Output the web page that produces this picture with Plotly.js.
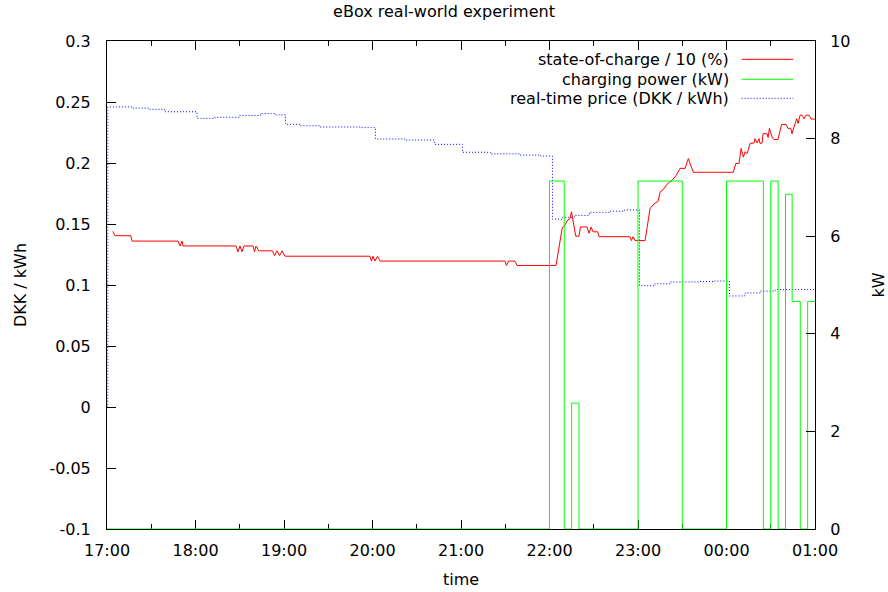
<!DOCTYPE html>
<html>
<head>
<meta charset="utf-8">
<script src="https://cdn.plot.ly/plotly-3.0.1.min.js"></script>
<style>html,body{margin:0;padding:0;background:#fff;}#chart{width:888px;height:592px;}</style>
</head>
<body>
<div id="chart"></div>
<script>
// times are minutes after 17:00
var priceMin = [0, 0.5, 17, 29, 39, 61, 73, 90, 104, 114, 121, 131, 144, 161, 172, 182, 202, 222, 241, 260, 280, 294, 302, 309, 317, 327, 341, 351, 361, 371.5, 382, 402, 412, 422, 432.5, 443, 453, 480];
var priceVal = [0, 0.246, 0.245, 0.244, 0.242, 0.2366, 0.2375, 0.239, 0.2405, 0.2395, 0.2317, 0.2305, 0.2295, 0.2295, 0.229, 0.2197, 0.2188, 0.2153, 0.2088, 0.2075, 0.2065, 0.2057, 0.154, 0.1555, 0.157, 0.1595, 0.1605, 0.1615, 0.0994, 0.101, 0.1025, 0.1028, 0.1033, 0.091, 0.0935, 0.095, 0.0962, 0.0965];

var socMin = [3.9, 5.4, 16.1, 17.0, 48.1, 49.5, 50.9, 51.5, 87.5, 88.8, 90.2, 91.5, 92.9, 99.0, 100, 101, 103, 112.3, 113.6, 115.3, 117, 118.7, 120.7, 178.3, 179.3, 180.3, 181.7, 183.4, 185.1, 269.8, 270.9, 272.2, 276.6, 278, 304.4, 308.7, 310.5, 312.3, 313.9, 314.9, 317.8, 320, 321, 325.4, 326.8, 328.2, 329.5, 332.7, 333.6, 354.6, 355.6, 356.6, 358, 364.8, 368.2, 371.5, 373.6, 374.9, 377, 379.5, 383.1, 385.8, 388.5, 391.9, 394.1, 397.5, 424.6, 426.3, 428.5, 429.9, 431.4, 432.6, 433.9, 436, 438.7, 439.3, 440.7, 442.1, 442.7, 444.1, 444.8, 447.5, 448.2, 449.1, 450.9, 452.2, 454.9, 457.4, 460.4, 461.7, 463.6, 464.4, 466.5, 467.6, 468.5, 469.9, 471.2, 472.6, 473.9, 476, 477.3, 480];
var socVal = [6.10, 6.01, 6.01, 5.90, 5.90, 5.80, 5.90, 5.80, 5.80, 5.68, 5.80, 5.68, 5.80, 5.80, 5.68, 5.80, 5.70, 5.70, 5.60, 5.70, 5.60, 5.70, 5.59, 5.59, 5.49, 5.59, 5.49, 5.59, 5.49, 5.49, 5.40, 5.49, 5.49, 5.40, 5.40, 6.18, 6.23, 6.33, 6.36, 6.50, 6.00, 6.00, 6.19, 6.19, 6.06, 6.19, 6.09, 6.09, 5.99, 5.99, 5.91, 5.99, 5.91, 5.91, 6.57, 6.68, 6.71, 6.90, 6.95, 7.06, 7.15, 7.24, 7.39, 7.39, 7.59, 7.31, 7.31, 7.49, 7.49, 7.80, 7.62, 7.73, 7.69, 7.90, 7.91, 8.00, 7.91, 8.00, 7.90, 7.91, 8.10, 8.10, 8.02, 8.21, 8.03, 7.98, 7.98, 8.29, 8.29, 8.21, 8.21, 8.10, 8.31, 8.41, 8.31, 8.48, 8.48, 8.41, 8.48, 8.48, 8.40, 8.40];

var powerMin = [0, 300, 310, 315, 320, 360, 390, 420, 445, 450, 455, 460, 464.5, 470, 475, 480];
var powerVal = [0, 7.13, 0, 2.58, 0, 7.13, 0, 7.13, 0, 7.13, 0, 6.86, 4.66, 0, 4.66, 4.66];

var xTickMin = [0, 60, 120, 180, 240, 300, 360, 420, 480];
var xTickText = ['17:00', '18:00', '19:00', '20:00', '21:00', '22:00', '23:00', '00:00', '01:00'];
var yTickVals = [-0.1, -0.05, 0, 0.05, 0.1, 0.15, 0.2, 0.25, 0.3];
var yTickText = ['-0.1', '-0.05', '0', '0.05', '0.1', '0.15', '0.2', '0.25', '0.3'];
var legendNames = ['state-of-charge / 10 (%)', 'charging power (kW)', 'real-time price (DKK / kWh)'];

function toDate(m) {
  var d = new Date(Date.UTC(2015, 0, 1, 17, 0, 0) + Math.round(m * 60000));
  function p(n) { return (n < 10 ? '0' : '') + n; }
  return d.getUTCFullYear() + '-' + p(d.getUTCMonth() + 1) + '-' + p(d.getUTCDate()) + ' ' +
    p(d.getUTCHours()) + ':' + p(d.getUTCMinutes()) + ':' + p(d.getUTCSeconds());
}

var FONT = 'DejaVu Sans, sans-serif';
var FS = 16;
var RED = '#ff0000', GREEN = '#00ff00', BLUE = '#0000ff';

var traces = [
  {x: socMin.map(toDate), y: socVal, yaxis: 'y2', type: 'scatter', mode: 'lines',
   line: {color: RED, width: 1}, name: legendNames[0], hoverinfo: 'skip'},
  {x: powerMin.map(toDate), y: powerVal, yaxis: 'y2', type: 'scatter', mode: 'lines',
   line: {color: GREEN, width: 1, shape: 'hv'}, name: legendNames[1], hoverinfo: 'skip'},
  {x: priceMin.map(toDate), y: priceVal, yaxis: 'y', type: 'scatter', mode: 'lines',
   line: {color: BLUE, width: 1, shape: 'hv', dash: '1px,2px'}, name: legendNames[2], hoverinfo: 'skip'}
];

var x0 = 0.8964, x1 = 0.9694, tx = 0.881;
var rows = [0.9625, 0.9215, 0.8826];
var cols = [RED, GREEN, BLUE];
var annotations = [], shapes = [];
for (var i = 0; i < 3; i++) {
  annotations.push({xref: 'paper', yref: 'paper', x: tx, y: rows[i], text: legendNames[i],
    showarrow: false, xanchor: 'right', yanchor: 'middle', font: {family: FONT, size: FS, color: '#000'}});
  shapes.push({type: 'line', xref: 'paper', yref: 'paper', x0: x0, x1: x1, y0: rows[i], y1: rows[i],
    line: {color: cols[i], width: 1, dash: i === 2 ? '1px,2px' : 'solid'}});
}

var layout = {
  width: 888, height: 592,
  margin: {l: 107, r: 73, t: 41, b: 63, pad: 0},
  paper_bgcolor: '#fff', plot_bgcolor: '#fff',
  showlegend: false,
  font: {family: FONT, size: FS, color: '#000'},
  title: {text: 'eBox real-world experiment', x: 0.5, xanchor: 'center', y: 0.99, yanchor: 'top',
          font: {family: FONT, size: FS, color: '#000'}},
  xaxis: {
    type: 'date', range: [toDate(0), toDate(480)],
    tickvals: xTickMin.map(toDate), ticktext: xTickText,
    ticks: 'inside', ticklen: 9, tickcolor: '#000', tickwidth: 1,
    minor: {dtick: 1800000, ticks: 'inside', ticklen: 5, tickcolor: '#000', tickwidth: 1, showgrid: false},
    showline: true, linecolor: '#000', linewidth: 1, mirror: 'ticks',
    showgrid: false, zeroline: false, layer: 'below traces', ticklabelstandoff: 7,
    tickfont: {family: FONT, size: FS, color: '#000'},
    title: {text: 'time', font: {family: FONT, size: FS, color: '#000'}, standoff: 14}
  },
  yaxis: {
    range: [-0.1, 0.3], tickvals: yTickVals, ticktext: yTickText,
    ticks: 'inside', ticklen: 9, tickcolor: '#000',
    showline: true, linecolor: '#000', linewidth: 1, mirror: true,
    showgrid: false, zeroline: false, ticklabelstandoff: 12,
    tickfont: {family: FONT, size: FS, color: '#000'},
    title: {text: 'DKK / kWh', font: {family: FONT, size: FS, color: '#000'}, standoff: 18}
  },
  yaxis2: {
    overlaying: 'y', side: 'right', range: [0, 10], dtick: 2, tick0: 0,
    ticks: 'inside', ticklen: 9, tickcolor: '#000',
    showline: true, linecolor: '#000', linewidth: 1,
    showgrid: false, zeroline: false, ticklabelstandoff: 11,
    tickfont: {family: FONT, size: FS, color: '#000'},
    title: {text: 'kW', font: {family: FONT, size: FS, color: '#000'}, standoff: 26}
  },
  annotations: annotations,
  shapes: shapes
};

Plotly.newPlot('chart', traces, layout, {displayModeBar: false, staticPlot: true});
</script>
</body>
</html>
